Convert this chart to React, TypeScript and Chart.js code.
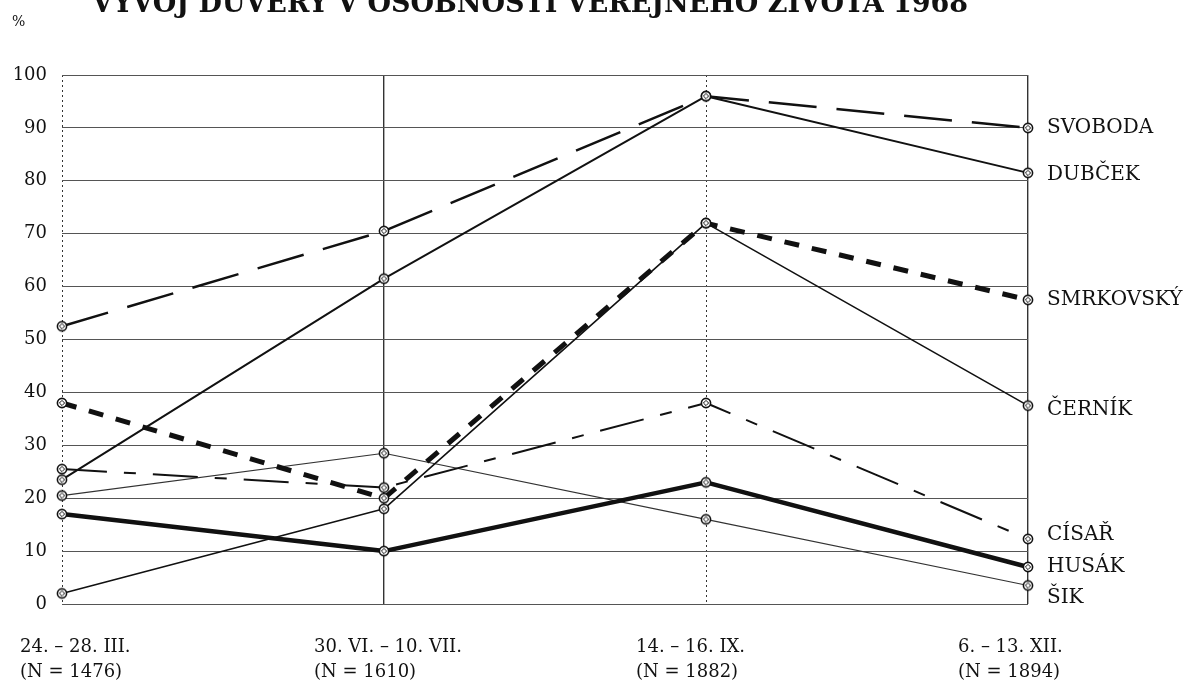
import React, { useEffect, useRef } from "react";
import { Chart, registerables } from "chart.js";

Chart.register(...registerables);

const chartTitle = "VÝVOJ DŮVĚRY V OSOBNOSTI VEŘEJNÉHO ŽIVOTA 1968";
const yUnit = "%";
const periods = ["24. – 28. III.", "30. VI. – 10. VII.", "14. – 16. IX.", "6. – 13. XII."];
const sampleSizes = ["(N = 1476)", "(N = 1610)", "(N = 1882)", "(N = 1894)"];
const yTickValues = [0, 10, 20, 30, 40, 50, 60, 70, 80, 90, 100];

const seriesNames = ["SVOBODA", "DUBČEK", "SMRKOVSKÝ", "ČERNÍK", "CÍSAŘ", "HUSÁK", "ŠIK"];
const svoboda = [52.5, 70.5, 96, 90];
const dubcek = [23.5, 61.5, 96, 81.5];
const smrkovsky = [38, 20, 72, 57.5];
const cernik = [2, 18, 72, 37.5];
const cisar = [25.5, 22, 38, 12.3];
const husak = [17, 10, 23, 7];
const sik = [20.5, 28.5, 16, 3.5];

const seriesValues = [svoboda, dubcek, smrkovsky, cernik, cisar, husak, sik];

const lineStyles = [
  { width: 2.5, dash: [48, 20], color: "#111" },
  { width: 2, dash: [], color: "#111" },
  { width: 5, dash: [15, 13], color: "#111" },
  { width: 1.6, dash: [], color: "#111" },
  { width: 2, dash: [45, 17, 12, 17], color: "#111" },
  { width: 4.5, dash: [], color: "#111" },
  { width: 1.2, dash: [], color: "#333" },
];

// pixel nudges for the right-hand series labels
const labelNudge: Record<string, number> = { "ČERNÍK": 4, "CÍSAŘ": -4, "ŠIK": 12, "DUBČEK": 2 };

const SERIF = '"DejaVu Serif", "Liberation Serif", serif';

function makeMarker(): HTMLCanvasElement {
  const c = document.createElement("canvas");
  c.width = 14;
  c.height = 14;
  const g = c.getContext("2d")!;
  g.beginPath();
  g.arc(7, 7, 4.6, 0, Math.PI * 2);
  g.fillStyle = "#fff";
  g.fill();
  g.lineWidth = 1.6;
  g.strokeStyle = "#111";
  g.stroke();
  g.beginPath();
  g.moveTo(7, 4.4);
  g.lineTo(9.6, 7);
  g.lineTo(7, 9.6);
  g.lineTo(4.4, 7);
  g.closePath();
  g.lineWidth = 1;
  g.stroke();
  return c;
}

const textPlugin = {
  id: "textPlugin",
  afterDraw(chart: any) {
    const ctx = chart.ctx as CanvasRenderingContext2D;
    const area = chart.chartArea;
    const xs = chart.scales.x;
    const ys = chart.scales.y;
    ctx.save();
    ctx.fillStyle = "#111";

    // title (cut off at top like the reference)
    ctx.font = `bold 27px ${SERIF}`;
    ctx.textAlign = "left";
    ctx.textBaseline = "alphabetic";
    ctx.fillText(chartTitle, 92, 12, 893);

    // unit
    ctx.font = `14px ${SERIF}`;
    ctx.fillText(yUnit, 12, 26);

    // category labels
    ctx.font = `18px ${SERIF}`;
    ctx.textBaseline = "middle";
    periods.forEach((p, i) => {
      const px = xs.getPixelForValue(i);
      const left = Math.max(20, px - 70);
      ctx.fillText(p, left, 647);
      ctx.fillText(sampleSizes[i], left, 672);
    });

    // series labels on the right
    ctx.font = `20px ${SERIF}`;
    seriesNames.forEach((name, i) => {
      const vals = seriesValues[i];
      const py = ys.getPixelForValue(vals[vals.length - 1]) + (labelNudge[name] || 0);
      ctx.fillText(name, area.right + 19, py);
    });
    ctx.restore();
  },
};

export default function App() {
  const ref = useRef<HTMLCanvasElement | null>(null);

  useEffect(() => {
    if (!ref.current) return;
    const marker = makeMarker();
    const chart = new Chart(ref.current, {
      type: "line",
      data: {
        labels: periods,
        datasets: seriesNames.map((name, i) => ({
          label: name,
          data: seriesValues[i],
          borderColor: lineStyles[i].color,
          borderWidth: lineStyles[i].width,
          borderDash: lineStyles[i].dash,
          borderCapStyle: "butt" as const,
          borderJoinStyle: "round" as const,
          fill: false,
          tension: 0,
          pointStyle: marker as any,
          pointRadius: 5,
          pointBackgroundColor: "#fff",
          pointBorderColor: "#111",
        })),
      },
      options: {
        animation: false,
        responsive: false,
        devicePixelRatio: 1,
        layout: { padding: { top: 75, right: 170, bottom: 0, left: 12 } },
        plugins: {
          legend: { display: false },
          title: { display: false },
          tooltip: { enabled: false },
        },
        scales: {
          x: {
            type: "category",
            offset: false,
            ticks: { display: false },
            grid: {
              color: "#333",
              lineWidth: (c: any) => (c.index % 2 === 1 ? 1.4 : 1),
              drawTicks: false,
            },
            border: {
              display: false,
              dash: (c: any) => (c.index % 2 === 0 ? [2, 3] : []),
            } as any,
            afterFit: (s: any) => {
              s.height = 83;
            },
          },
          y: {
            min: 0,
            max: 100,
            afterBuildTicks: (s: any) => {
              s.ticks = yTickValues.map((v) => ({ value: v }));
            },
            ticks: {
              stepSize: 10,
              padding: 15,
              color: "#111",
              font: { family: SERIF, size: 18 },
            },
            grid: { color: "#555", lineWidth: 1, drawTicks: false },
            border: { display: false },
            afterFit: (s: any) => {
              s.width = 50;
            },
          },
        },
      },
      plugins: [textPlugin],
    });
    return () => chart.destroy();
  }, []);

  return (
    <div style={{ position: "fixed", left: 0, top: 0, width: 1198, height: 687, background: "#fff" }}>
      <canvas ref={ref} width={1198} height={687} style={{ display: "block" }} />
    </div>
  );
}
